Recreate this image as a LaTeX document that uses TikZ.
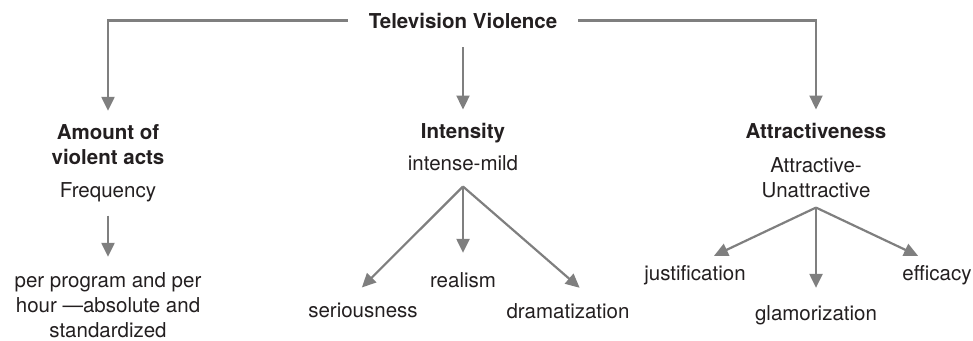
\documentclass[tikz,border=0pt]{standalone}
\usepackage{fontspec}
\setmainfont{TeX Gyre Heros}
\usetikzlibrary{arrows.meta,positioning}
\definecolor{linegray}{HTML}{7F7F7F}
\definecolor{textblack}{HTML}{231F20}

\begin{document}
\begin{tikzpicture}[x=1pt, y=-1pt,
  every node/.style={inner sep=0pt, anchor=base, align=center, text=textblack,
    font=\fontsize{20.5}{25}\selectfont},
  head/.style={font=\fontsize{20.5}{25}\selectfont\bfseries},
  link/.style={draw=linegray, line width=2.2pt, -{Triangle[width=13pt,length=14pt]}}]
\useasboundingbox (0,0) rectangle (973,340);

% title
\node[head, inner xsep=21pt] (tv) at (463,28) {Television Violence};

% Amount of violent acts (left), base = last line
\begin{scope}[shift={(108,0)}]
\node[head] (amount) at (0,164) {Amount of\\violent acts};
\node (freq) at (0,197) {Frequency};
\node (perprog) at (0,337) {per program and per\\hour —absolute and\\standardized};
\draw[link, shorten <=14pt, shorten >=15pt] (freq.south) -- (perprog.north);
\end{scope}

% Intensity (middle)
\begin{scope}[shift={(463,0)}]
\node[head] (intensity) at (0,138) {Intensity};
\node (mild) at (0,170) {intense-mild};
\coordinate[below=16pt of mild] (hubI);
\node (serious) at (-100,317) {seriousness};
\node (realism) at (0,287) {realism};
\node (drama) at (105,318) {dramatization};
\draw[link, shorten >=21pt] (hubI) -- ([xshift=-16pt]serious.north);
\draw[link, shorten >=19pt] (hubI) -- (realism.north);
\draw[link, shorten >=23pt] (hubI) -- ([xshift=29pt]drama.north);
\end{scope}

% Attractiveness (right)
\begin{scope}[shift={(816,0)}]
\node[head] (attract) at (0,138) {Attractiveness};
\node (scale) at (0,197) {Attractive-\\Unattractive};
\coordinate[below=10pt of scale] (hubA);
\node (justif) at (-121,280) {justification};
\node (glamor) at (0,320) {glamorization};
\node (efficacy) at (121,280) {efficacy};
\draw[link, shorten >=21pt] (hubA) -- (justif.north);
\draw[link, shorten >=17pt] (hubA) -- (glamor.north);
\draw[link, shorten >=21pt] (hubA) -- (efficacy.north);
\end{scope}

% from the title to the three dimensions
\draw[link, shorten >=13pt] (tv.west) -| (amount.north);
\draw[link, shorten <=19pt, shorten >=13pt] (tv.south) -- (intensity.north);
\draw[link, shorten >=13pt] (tv.east) -| (attract.north);
\end{tikzpicture}
\end{document}
